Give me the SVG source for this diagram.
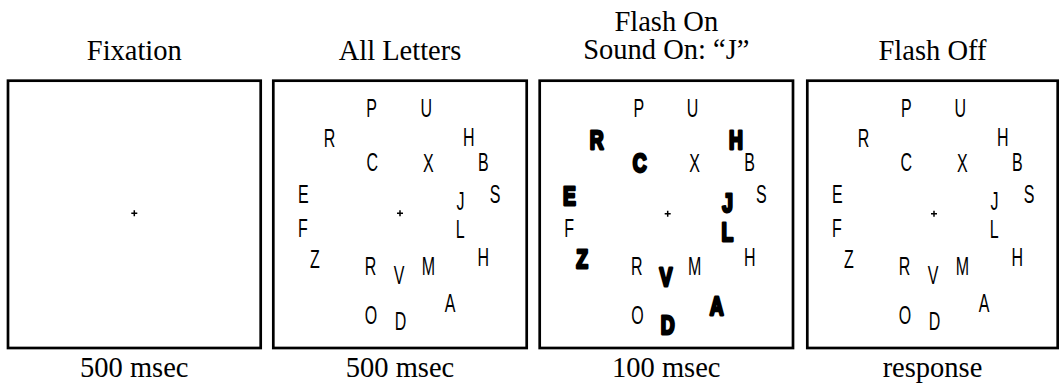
<svg xmlns="http://www.w3.org/2000/svg" width="1059" height="384" viewBox="0 0 1059 384">
<style>
.bg{fill:#fff}
.frame{fill:none;stroke:#000;stroke-width:2.7}
.title{font-family:"Liberation Serif","Times New Roman",serif;font-size:28.5px;text-anchor:middle;fill:#000}
.lt{font-family:"Liberation Sans",Arial,sans-serif;font-size:25px;font-weight:300;text-anchor:middle;fill:#000}
.lb{font-family:"Liberation Sans",Arial,sans-serif;font-size:26px;font-weight:bold;text-anchor:middle;fill:#000;stroke:#000;stroke-width:2.8;stroke-linejoin:round}
.fix{fill:none;stroke:#000;stroke-width:1.5}
</style>
<rect class="bg" x="0" y="0" width="1059" height="384"/>

<g id="panel-fixation" transform="translate(8,0)">
<text class="title" x="126.3" y="59.5">Fixation</text>
<rect class="frame" x="0" y="80.7" width="252.7" height="267.3"/>
<path class="fix" d="M123.3,213.3H129.3M126.3,210.3V216.3"/>
<text class="title" x="126.3" y="377">500 msec</text>
</g>

<g id="panel-all-letters" transform="translate(273.3,0)">
<text class="title" x="126.7" y="59.5">All Letters</text>
<rect class="frame" x="0" y="80.7" width="253.4" height="267.3"/>
<path class="fix" d="M123.7,213.3H129.7M126.7,210.3V216.3"/>
<text class="lt" transform="translate(98.4,117.3) scale(0.64,1)">P</text>
<text class="lt" transform="translate(152.9,117.3) scale(0.64,1)">U</text>
<text class="lt" transform="translate(56.2,147) scale(0.64,1)">R</text>
<text class="lt" transform="translate(195.5,145.7) scale(0.64,1)">H</text>
<text class="lt" transform="translate(99,170.7) scale(0.64,1)">C</text>
<text class="lt" transform="translate(155,171.7) scale(0.64,1)">X</text>
<text class="lt" transform="translate(210,171) scale(0.64,1)">B</text>
<text class="lt" transform="translate(30,202.7) scale(0.64,1)">E</text>
<text class="lt" transform="translate(221.7,202.7) scale(0.64,1)">S</text>
<text class="lt" transform="translate(187.2,210) scale(0.64,1)">J</text>
<text class="lt" transform="translate(29.5,237.3) scale(0.64,1)">F</text>
<text class="lt" transform="translate(187,238.3) scale(0.64,1)">L</text>
<text class="lt" transform="translate(41.7,268.3) scale(0.64,1)">Z</text>
<text class="lt" transform="translate(210,266) scale(0.64,1)">H</text>
<text class="lt" transform="translate(97.2,275.3) scale(0.64,1)">R</text>
<text class="lt" transform="translate(125.7,284) scale(0.64,1)">V</text>
<text class="lt" transform="translate(155,275.3) scale(0.64,1)">M</text>
<text class="lt" transform="translate(176.7,311.7) scale(0.64,1)">A</text>
<text class="lt" transform="translate(97.7,324) scale(0.64,1)">O</text>
<text class="lt" transform="translate(127.2,330) scale(0.64,1)">D</text>
<text class="title" x="126.7" y="377">500 msec</text>
</g>

<g id="panel-flash-on" transform="translate(539.7,0)">
<text class="title" x="126.6" y="30.5">Flash On</text>
<text class="title" x="126.6" y="58.5">Sound On: “J”</text>
<rect class="frame" x="0" y="80.7" width="253.3" height="267.3"/>
<path class="fix" d="M125,213.8H131M128,210.8V216.8"/>
<text class="lt" transform="translate(99.1,117.3) scale(0.64,1)">P</text>
<text class="lt" transform="translate(152.9,117.3) scale(0.64,1)">U</text>
<text class="lb" transform="translate(57,149.4) scale(0.74,1)">R</text>
<text class="lb" transform="translate(196.3,148.7) scale(0.74,1)">H</text>
<text class="lb" transform="translate(100,172) scale(0.74,1)">C</text>
<text class="lt" transform="translate(155,171.7) scale(0.64,1)">X</text>
<text class="lt" transform="translate(210,171) scale(0.64,1)">B</text>
<text class="lb" transform="translate(29.8,204.7) scale(0.74,1)">E</text>
<text class="lt" transform="translate(221.7,202.7) scale(0.64,1)">S</text>
<text class="lb" transform="translate(187.8,211.5) scale(0.74,1)">J</text>
<text class="lt" transform="translate(29.5,237.3) scale(0.64,1)">F</text>
<text class="lb" transform="translate(187.8,240.5) scale(0.74,1)">L</text>
<text class="lb" transform="translate(42.5,268) scale(0.74,1)">Z</text>
<text class="lt" transform="translate(210,266) scale(0.64,1)">H</text>
<text class="lt" transform="translate(97.2,275.3) scale(0.64,1)">R</text>
<text class="lb" transform="translate(126.1,286) scale(0.74,1)">V</text>
<text class="lt" transform="translate(155,275.3) scale(0.64,1)">M</text>
<text class="lb" transform="translate(177,314.7) scale(0.74,1)">A</text>
<text class="lt" transform="translate(97.7,324) scale(0.64,1)">O</text>
<text class="lb" transform="translate(128.1,333.7) scale(0.74,1)">D</text>
<text class="title" x="126.6" y="377">100 msec</text>
</g>

<g id="panel-flash-off" transform="translate(807.3,0)">
<text class="title" x="125.2" y="59.5">Flash Off</text>
<rect class="frame" x="0" y="80.7" width="250.4" height="267.3"/>
<path class="fix" d="M123.7,213.8H129.7M126.7,210.8V216.8"/>
<text class="lt" transform="translate(99,117.3) scale(0.64,1)">P</text>
<text class="lt" transform="translate(152.9,117.3) scale(0.64,1)">U</text>
<text class="lt" transform="translate(56.2,147) scale(0.64,1)">R</text>
<text class="lt" transform="translate(195.5,145.7) scale(0.64,1)">H</text>
<text class="lt" transform="translate(99,170.7) scale(0.64,1)">C</text>
<text class="lt" transform="translate(155,171.7) scale(0.64,1)">X</text>
<text class="lt" transform="translate(210,171) scale(0.64,1)">B</text>
<text class="lt" transform="translate(30,202.7) scale(0.64,1)">E</text>
<text class="lt" transform="translate(221.7,202.7) scale(0.64,1)">S</text>
<text class="lt" transform="translate(187.2,210) scale(0.64,1)">J</text>
<text class="lt" transform="translate(29.5,237.3) scale(0.64,1)">F</text>
<text class="lt" transform="translate(187,238.3) scale(0.64,1)">L</text>
<text class="lt" transform="translate(41.7,268.3) scale(0.64,1)">Z</text>
<text class="lt" transform="translate(210,266) scale(0.64,1)">H</text>
<text class="lt" transform="translate(97.2,275.3) scale(0.64,1)">R</text>
<text class="lt" transform="translate(125.7,284) scale(0.64,1)">V</text>
<text class="lt" transform="translate(155,275.3) scale(0.64,1)">M</text>
<text class="lt" transform="translate(176.7,311.7) scale(0.64,1)">A</text>
<text class="lt" transform="translate(97.7,324) scale(0.64,1)">O</text>
<text class="lt" transform="translate(127.2,330) scale(0.64,1)">D</text>
<text class="title" x="125.2" y="377">response</text>
</g>

<g id="connectors"></g>
</svg>
